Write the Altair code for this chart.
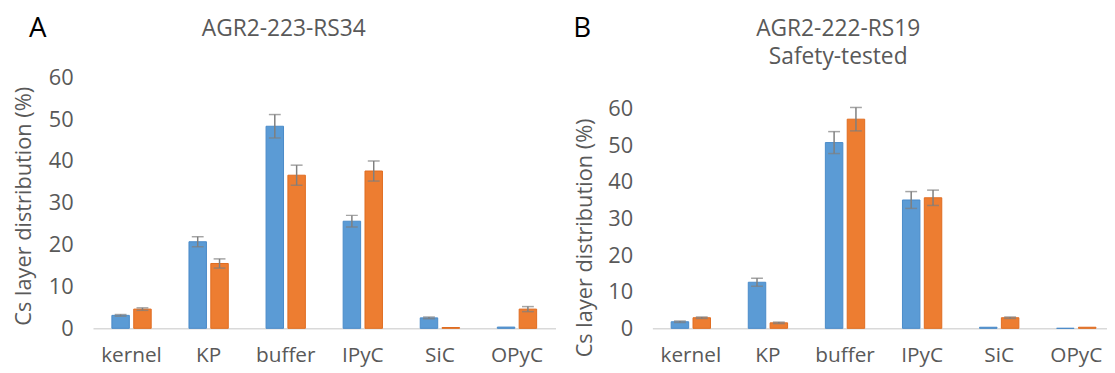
import altair as alt
import pandas as pd

categories = ["kernel", "KP", "buffer", "IPyC", "SiC", "OPyC"]
series_names = ["Series 1", "Series 2"]

# Panel A: AGR2-223-RS34
a_series1 = [3.1, 20.7, 48.3, 25.6, 2.5, 0.3]
a_series1_err = [0.2, 1.2, 2.8, 1.4, 0.2, 0.0]
a_series2 = [4.6, 15.5, 36.6, 37.6, 0.2, 4.6]
a_series2_err = [0.3, 1.1, 2.4, 2.4, 0.0, 0.6]

# Panel B: AGR2-222-RS19 (safety-tested)
b_series1 = [1.8, 12.6, 50.8, 35.1, 0.3, 0.0]
b_series1_err = [0.2, 1.1, 3.0, 2.3, 0.0, 0.0]
b_series2 = [2.9, 1.5, 57.2, 35.7, 2.9, 0.3]
b_series2_err = [0.2, 0.2, 3.2, 2.1, 0.2, 0.0]

y_ticks = [0, 10, 20, 30, 40, 50, 60]
a_title = ["AGR2-223-RS34"]
b_title = ["AGR2-222-RS19", "Safety-tested"]

FONT = "Open Sans"
TEXT = "#595959"
COLORS = ["#5B9BD5", "#ED7D31"]
STROKES = ["#4A8BC8", "#E06C20"]
ERR = "#7F7F7F"


def make_df(v1, e1, v2, e2):
    rows = []
    for s, vals, errs in ((series_names[0], v1, e1), (series_names[1], v2, e2)):
        for c, v, e in zip(categories, vals, errs):
            rows.append({"cat": c, "series": s, "value": v, "err": e,
                         "lo": v - e, "hi": v + e})
    return pd.DataFrame(rows)


def panel(df, letter, title_lines, width, height, x_scale, y_scale,
          ytitle_x, ytitle_y, letter_x, letter_y, title_x, title_ys):
    x_axis = alt.Axis(title=None, labelAngle=0, ticks=False,
                      domainColor="#D9D9D9", domainWidth=1.5,
                      labelFontSize=21, labelColor=TEXT,
                      labelFont=FONT, labelPadding=17)
    y_axis = alt.Axis(values=y_ticks, grid=False, domain=False, ticks=False,
                      labelFontSize=22, labelColor=TEXT, labelFont=FONT,
                      labelPadding=20, title="Cs layer distribution (%)",
                      titleFontSize=22, titleFont=FONT,
                      titleFontWeight="normal", titleColor=TEXT,
                      titleBaseline="middle",
                      titleX=ytitle_x, titleY=ytitle_y)

    def xe():
        return alt.X("cat:N", sort=categories, scale=x_scale, axis=x_axis)

    def ye(field):
        return alt.Y(field, scale=y_scale, axis=y_axis)

    xo = alt.XOffset("series:N", sort=series_names,
                     scale=alt.Scale(paddingInner=0.2))
    base = alt.Chart(df)
    bars = base.mark_bar(strokeWidth=1).encode(
        x=xe(), xOffset=xo, y=ye("value:Q"),
        color=alt.Color("series:N", sort=series_names,
                        scale=alt.Scale(domain=series_names, range=COLORS),
                        legend=None),
        stroke=alt.Stroke("series:N", sort=series_names,
                          scale=alt.Scale(domain=series_names, range=STROKES),
                          legend=None),
    )
    eb = base.transform_filter("datum.err > 0")
    rule = eb.mark_rule(color=ERR, strokeWidth=1.5).encode(
        x=xe(), xOffset=xo, y=ye("lo:Q"), y2="hi:Q")
    cap_hi = eb.mark_tick(color=ERR, thickness=1.5, size=12).encode(
        x=xe(), xOffset=xo, y=ye("hi:Q"))
    cap_lo = eb.mark_tick(color=ERR, thickness=1.5, size=12).encode(
        x=xe(), xOffset=xo, y=ye("lo:Q"))
    layers = [bars, rule, cap_hi, cap_lo]
    layers.append(alt.Chart(pd.DataFrame({"t": [letter]})).mark_text(
        fontSize=28, font=FONT, color="#000000", align="center",
        baseline="middle").encode(text="t:N", x=alt.value(letter_x),
                                  y=alt.value(letter_y)))
    for line, ty in zip(title_lines, title_ys):
        layers.append(alt.Chart(pd.DataFrame({"t": [line]})).mark_text(
            fontSize=23, font=FONT, color=TEXT, align="center",
            baseline="middle").encode(text="t:N", x=alt.value(title_x),
                                      y=alt.value(ty)))
    return alt.layer(*layers).properties(width=width, height=height)


df_a = make_df(a_series1, a_series1_err, a_series2, a_series2_err)
df_b = make_df(b_series1, b_series1_err, b_series2, b_series2_err)

panel_a = panel(df_a, "A", a_title, 468, 254,
                alt.Scale(paddingInner=0.49, paddingOuter=0.245),
                alt.Scale(domain=[0, 60], nice=False),
                -70, 130, -56, -49, 193, [-49])
panel_b = panel(df_b, "B", b_title, 460, 254,
                alt.Scale(paddingInner=0.49, paddingOuter=0.1936, align=0.63),
                alt.Scale(domain=[0, 60], nice=False, range=[254, 32]),
                -69, 162, -71, -49, 188, [-49, -20])

chart = alt.hconcat(panel_a, panel_b, spacing=17).properties(
    padding={"left": 4, "top": 5, "right": 0, "bottom": 0},
    background="white",
).configure_view(stroke=None)

chart.save("out.html", embed_options={"renderer": "svg", "actions": False})
